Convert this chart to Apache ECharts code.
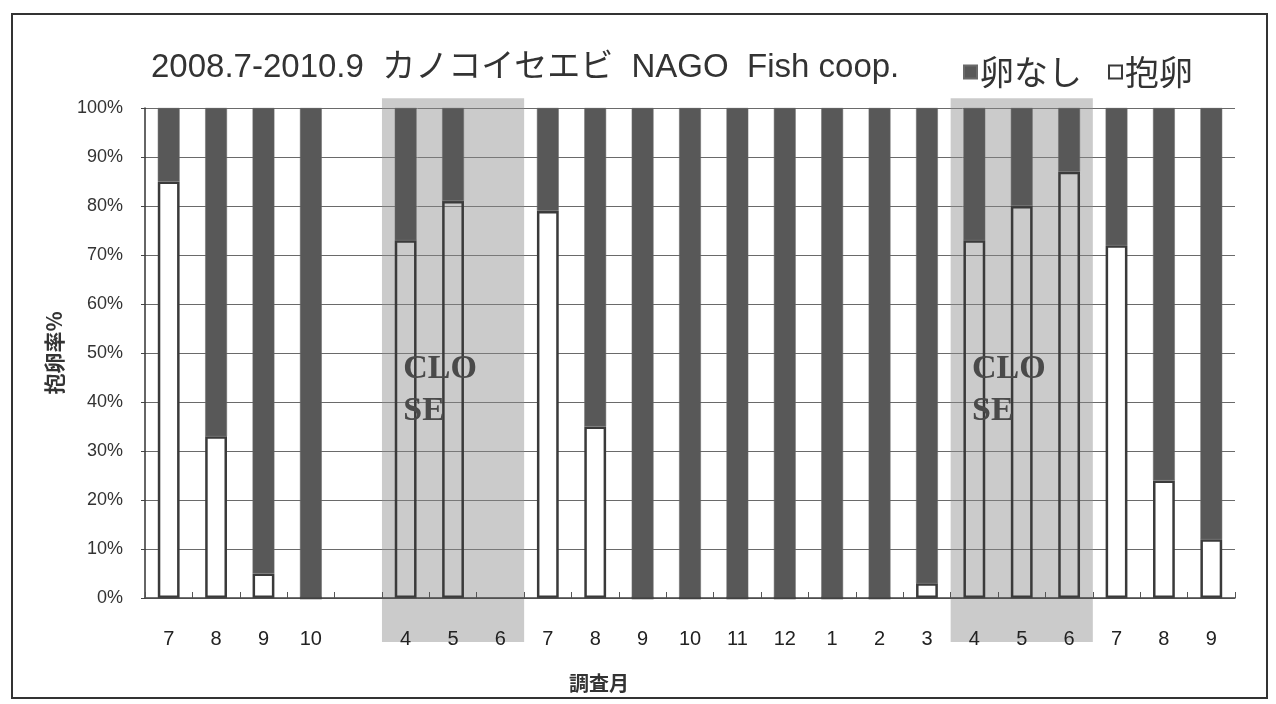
<!DOCTYPE html>
<html>
<head>
<meta charset="utf-8">
<script src="https://cdn.jsdelivr.net/npm/echarts@6/dist/echarts.min.js"></script>
<style>
  html, body { margin: 0; padding: 0; background: #fff; }
  #chart { width: 1276px; height: 704px; }
</style>
</head>
<body>
<div id="chart"></div>
<script>
// Survey months, July 2008 to September 2010 (blank slot = break between seasons)
const months = ['7', '8', '9', '10', '', '4', '5', '6', '7', '8', '9', '10', '11', '12', '1', '2', '3', '4', '5', '6', '7', '8', '9'];
// Share of berried females (抱卵), percent
const berried = [85, 33, 5, 0, '-', 73, 81, '-', 79, 35, 0, 0, 0, 0, 0, 0, 3, 73, 80, 87, 72, 24, 12];
// Share of females without eggs (卵なし), percent
const noEggs = [15, 67, 95, 100, '-', 27, 19, '-', 21, 65, 100, 100, 100, 100, 100, 100, 97, 27, 20, 13, 28, 76, 88];
// Closed fishing seasons: first and last category index of each span
const closedSpans = [[5, 7], [17, 19]];
const closedLabel = 'CLO\nSE';

const inClosed = i => closedSpans.some(([a, b]) => i >= a && i <= b);

const FONT = "'Liberation Sans', 'Noto Sans CJK JP', sans-serif";
const JFONT = "'Noto Sans CJK JP', 'Liberation Sans', sans-serif";

const chart = echarts.init(document.getElementById('chart'), null, { renderer: 'canvas' });

const option = {
  backgroundColor: '#fff',
  animation: false,
  title: [
    {
      text: '2008.7-2010.9  カノコイセエビ  NAGO  Fish coop.',
      left: 146, top: 46,
      textStyle: { fontFamily: FONT, fontSize: 33, fontWeight: 'normal', color: '#333' }
    },
    {
      text: '調査月',
      left: 564, top: 668,
      textStyle: { fontFamily: JFONT, fontSize: 20, fontWeight: 'bold', color: '#333' }
    }
  ],
  legend: {
    data: ['卵なし', '抱卵'],
    left: 958, top: 50,
    icon: 'rect',
    itemWidth: 13, itemHeight: 13, itemGap: 26,
    textStyle: { fontFamily: JFONT, fontSize: 34, color: '#333', padding: [0, 0, 0, -2] }
  },
  grid: { left: 145, right: 41, top: 108, bottom: 106, containLabel: false },
  xAxis: {
    type: 'category',
    data: months,
    z: 3,
    axisLine: { lineStyle: { color: '#444', width: 1.5 } },
    axisTick: { show: true, inside: true, length: 6, lineStyle: { color: '#555' } },
    axisLabel: { interval: 0, margin: 31, fontFamily: FONT, fontSize: 20, color: '#222' },
    splitLine: { show: false }
  },
  yAxis: {
    type: 'value',
    min: 0, max: 100, interval: 10,
    name: '抱卵率%',
    nameLocation: 'middle',
    nameGap: 80,
    nameRotate: 90,
    nameTextStyle: { fontFamily: JFONT, fontSize: 21, fontWeight: 'bold', color: '#333' },
    axisLine: { show: true, lineStyle: { color: '#333', width: 1.5 } },
    axisTick: { show: true, length: 4, lineStyle: { color: '#444' } },
    axisLabel: { formatter: '{value}%', margin: 22, fontFamily: FONT, fontSize: 18, color: '#333' },
    splitLine: { show: true, lineStyle: { color: '#6a6a6a', width: 1 } }
  },
  series: [
    {
      name: '抱卵',
      type: 'bar',
      stack: 'ratio',
      barWidth: '46%',
      z: 2,
      itemStyle: { color: '#fff', borderColor: '#3a3a3a', borderWidth: 2.5 },
      data: berried.map((v, i) => inClosed(i)
        ? { value: v, itemStyle: { color: 'rgba(255,255,255,0)' } }
        : v)
    },
    {
      name: '卵なし',
      type: 'bar',
      stack: 'ratio',
      barWidth: '46%',
      z: 2,
      itemStyle: { color: '#585858', borderColor: '#6a6a6a', borderWidth: 0.5 },
      data: noEggs
    }
  ],
  graphic: [
    {
      id: 'frame', type: 'rect', silent: true, z: 10,
      shape: { x: 12, y: 14, width: 1255, height: 684 },
      style: { fill: 'none', stroke: '#333', lineWidth: 2 }
    }
  ]
};

chart.setOption(option);

// Shade the closed seasons using the chart's own axis scales
const px = i => chart.convertToPixel({ xAxisIndex: 0 }, i);
const py = v => chart.convertToPixel({ yAxisIndex: 0 }, v);
const band = px(1) - px(0);
const shades = [];
closedSpans.forEach(([a, b], k) => {
  const x0 = px(a) - band / 2;
  const x1 = px(b) + band / 2;
  const yTop = py(102);
  const yBot = py(-9);
  shades.push({
    id: 'shade' + k, type: 'rect', silent: true, z: 1,
    shape: { x: x0, y: yTop, width: x1 - x0, height: yBot - yTop },
    style: { fill: 'rgba(140,140,140,0.45)' }
  });
  shades.push({
    id: 'closeText' + k, type: 'text', silent: true, z: 4,
    x: x0 + band * 0.45, y: py(51),
    style: {
      text: closedLabel,
      font: "bold 34px 'Liberation Serif', 'DejaVu Serif', serif",
      fill: '#4a4a4a',
      lineHeight: 42,
      verticalAlign: 'top',
      align: 'left'
    }
  });
});
chart.setOption({ graphic: shades });
</script>
</body>
</html>
